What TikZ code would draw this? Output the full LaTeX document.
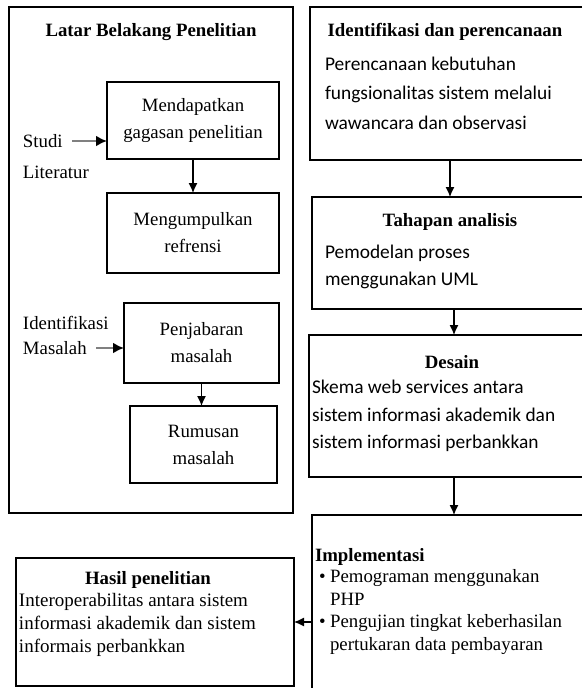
\documentclass[tikz,border=0pt]{standalone}
\usepackage{fontspec}
\setmainfont{Liberation Serif}
\newfontfamily\calfont{Carlito}
\usetikzlibrary{arrows.meta}
\begin{document}
\begin{tikzpicture}[x=1pt,y=-1pt,
  every node/.style={inner sep=0pt,outer sep=0pt},
  frame/.style={draw,line width=1.3pt,rectangle,anchor=north west},
  openbox/.style={rectangle,anchor=north west},
  edgeline/.style={line width=1.3pt},
  arr/.style={line width=1.2pt,-{Latex[length=10pt,width=9pt]}},
  sidearr/.style={draw=black!50,line width=2.6pt,-{Latex[length=11pt,width=11pt,color=black]}},
  serif/.style={font=\fontsize{18.8}{27}\selectfont,align=center},
  serifl/.style={font=\fontsize{18.8}{31}\selectfont,align=left},
  ttl/.style={font=\fontsize{18.8}{22}\selectfont\bfseries},
  cal/.style={align=left,font=\calfont\fontsize{19.4}{#1}\selectfont},
  cal/.default={27.5}
]
\useasboundingbox (0,0) rectangle (582,688);

% ---------- left panel ----------
\node[frame,minimum width=284pt,minimum height=506pt] (lb) at (9,7) {};
\node[ttl] (lbt) at (151,32) {Latar Belakang Penelitian};

\node[frame,minimum width=172pt,minimum height=77pt] (b1) at (107,82) {};
\node[serif] (b1t) at (b1.center) {Mendapatkan\\gagasan penelitian};
\node[frame,minimum width=172pt,minimum height=80pt] (b2) at (107,193) {};
\node[serif] (b2t) at (b2.center) {Mengumpulkan\\refrensi};
\node[frame,minimum width=155pt,minimum height=80pt] (b3) at (124,303) {};
\node[serif] (b3t) at (b3.center) {Penjabaran\\masalah};
\node[frame,minimum width=147pt,minimum height=77pt] (b4) at (130,406) {};
\node[serif] (b4t) at (b4.center) {Rumusan\\masalah};

\node[serifl,anchor=west] (studi) at (23,141) {Studi};
\node[serifl,anchor=west] (lit) at (23,172) {Literatur};
\node[serifl,anchor=west] (ident) at (23,323) {Identifikasi};
\node[serifl,anchor=west] (masl) at (23,348) {Masalah};

\coordinate (s0) at (72,141);
\coordinate (m0) at (96,348);
\draw[sidearr] (s0) -- (s0 -| b1.west);
\draw[sidearr] (m0) -- (m0 -| b3.west);
\draw[arr] (b1.south) -- (b2.north);
\draw[arr] (b3.south) -- (b3.south |- b4.north);

% ---------- right column ----------
\node[openbox,minimum width=272pt,minimum height=153pt] (A) at (310,7) {};
\draw[edgeline] (A.north east) -- (A.north west) -- (A.south west) -- (A.south east);
\node[ttl] (At) at (445,32) {Identifikasi dan perencanaan};
\node[cal=29.5,anchor=west] (Ab) at (325,93) {Perencanaan kebutuhan\\fungsionalitas sistem melalui\\wawancara dan observasi};

\node[openbox,minimum width=270pt,minimum height=112pt] (B) at (312,197) {};
\draw[edgeline] (B.north east) -- (B.north west) -- (B.south west) -- (B.south east);
\node[ttl] (Bt) at (450,222) {Tahapan analisis};
\node[cal=27,anchor=west] (Bb) at (325,267) {Pemodelan proses\\menggunakan UML};

\node[openbox,minimum width=273pt,minimum height=142pt] (C) at (309,335) {};
\draw[edgeline] (C.north east) -- (C.north west) -- (C.south west) -- (C.south east);
\node[ttl] (Ct) at (452,362) {Desain};
\node[cal=27.5,anchor=west] (Cb) at (312,416) {Skema web services antara\\sistem informasi akademik dan\\sistem informasi perbankkan};

\node[openbox,minimum width=270pt,minimum height=173pt] (I) at (312,515) {};
\draw[edgeline] (I.north east) -- (I.north west) -- (I.south west);
\node[ttl,anchor=west] (It) at (315,557) {Implementasi};
\node[anchor=west,font=\fontsize{18.8}{22.4}\selectfont] (Ib) at (319,612)
  {\begin{tabular}{@{}l@{\hspace{4.5pt}}l@{}}\textbullet & Pemograman menggunakan\\ & PHP\\ \textbullet & Pengujian tingkat keberhasilan\\ & pertukaran data pembayaran\end{tabular}};

\coordinate (colA) at (450,0);
\coordinate (colB) at (454,0);
\draw[arr] (A.south -| colA) -- (B.north -| colA);
\draw[arr] (B.south -| colB) -- (C.north -| colB);
\draw[arr] (C.south -| colB) -- (I.north -| colB);

% ---------- result ----------
\node[frame,minimum width=278pt,minimum height=128pt] (H) at (16,558) {};
\node[ttl] (Ht) at (148,580) {Hasil penelitian};
\node[anchor=west,align=left,font=\fontsize{19}{23}\selectfont] (Hb) at (19,625)
  {Interoperabilitas antara sistem\\informasi akademik dan sistem\\informais perbankkan};
\draw[arr] (H.east -| I.west) -- (H.east);
\end{tikzpicture}
\end{document}
